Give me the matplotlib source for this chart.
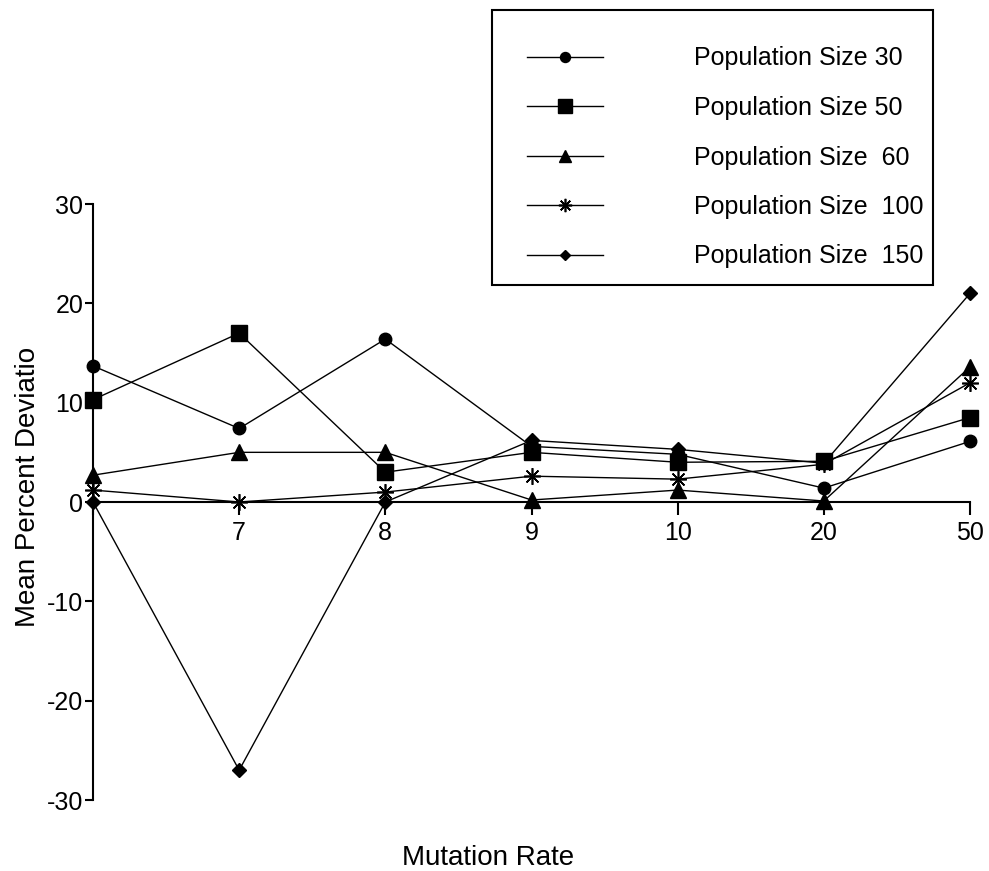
import matplotlib as mpl
mpl.use('Agg')
import matplotlib.pyplot as plt
from matplotlib.patches import Rectangle

plt.rcParams['font.family'] = ['Liberation Sans', 'DejaVu Sans']
plt.rcParams['axes.unicode_minus'] = False

# categories along the x axis (first one has no label in the original)
rates = ['', '7', '8', '9', '10', '20', '50']

pop30 = [13.7, 7.4, 16.4, 5.6, 4.8, 1.4, 6.1]
pop50 = [10.3, 17.0, 3.0, 5.0, 4.0, 4.1, 8.5]
pop60 = [2.7, 5.0, 5.0, 0.2, 1.2, 0.1, 13.6]
pop100 = [1.2, 0.0, 1.0, 2.6, 2.3, 3.8, 12.0]
pop150 = [0.0, -27.0, 0.0, 6.2, 5.3, 3.9, 21.0]

labels = ['Population Size 30', 'Population Size 50', 'Population Size  60',
          'Population Size  100', 'Population Size  150']

W, H = 989, 871
fig = plt.figure(figsize=(W / 100, H / 100), dpi=100)
ax = fig.add_axes([93 / W, (H - 800) / H, (970 - 93) / W, (800 - 204) / H])

x = list(range(len(rates)))
styles = [
    (pop30, dict(marker='o', markersize=9)),
    (pop50, dict(marker='s', markersize=12)),
    (pop60, dict(marker='^', markersize=11)),
    (pop100, dict(marker=(8, 2, 0), markersize=12, markeredgewidth=1.2)),
    (pop150, dict(marker='D', markersize=7)),
]
handles = []
for (vals, st), lab in zip(styles, labels):
    h, = ax.plot(x, vals, color='black', linewidth=1.0, markerfacecolor='black',
                 markeredgecolor='black', label=lab, clip_on=False, **st)
    handles.append(h)

ax.set_xlim(0, 6)
ax.set_ylim(-30, 30)
ax.set_xticks(x)
ax.set_xticklabels(rates)
ax.set_yticks([-30, -20, -10, 0, 10, 20, 30])

ax.spines['top'].set_visible(False)
ax.spines['right'].set_visible(False)
ax.spines['bottom'].set_position(('data', 0))
for s in ('left', 'bottom'):
    ax.spines[s].set_linewidth(1.5)
ax.tick_params(axis='x', direction='out', length=9, width=1.5, labelsize=18, pad=5)
ax.tick_params(axis='y', direction='out', length=6, width=1.5, labelsize=18, pad=1)
ax.patch.set_visible(False)

fig.text(28 / W, 1 - 487 / H, 'Mean Percent Deviatio', rotation=90,
         ha='center', va='center', fontsize=20)
fig.text(488 / W, 1 - 858 / H, 'Mutation Rate', ha='center', va='center', fontsize=20)

# legend box
fig.patches.append(Rectangle((492 / W, 1 - 285 / H), (933 - 492) / W, (285 - 10) / H,
                             transform=fig.transFigure, fill=False,
                             edgecolor='black', linewidth=1.5))
leg = fig.legend(handles=handles, loc='upper left',
                 bbox_to_anchor=(514 / W, 1 - 34 / H), frameon=False,
                 fontsize=18, handlelength=3.04, handletextpad=3.68,
                 labelspacing=1.02, borderpad=0, markerscale=0.8)

fig.savefig('out.png', dpi=100)
